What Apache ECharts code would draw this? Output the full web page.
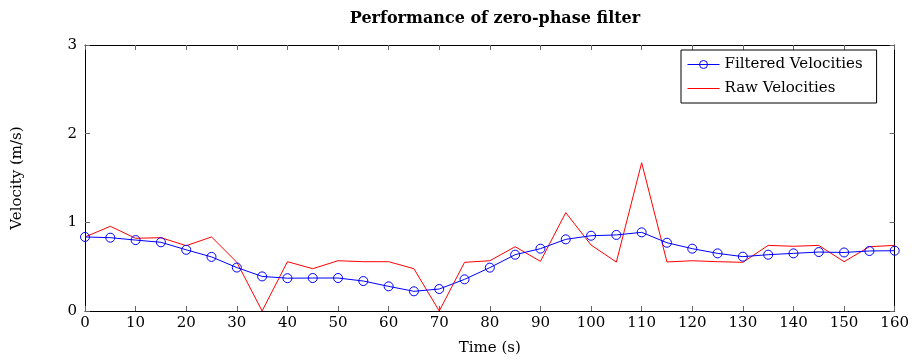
<!DOCTYPE html>
<html><head><meta charset="utf-8">
<script src="https://cdn.jsdelivr.net/npm/echarts@6/dist/echarts.min.js"></script>
<style>html,body{margin:0;padding:0;background:#fff}#c{width:912px;height:362px}</style>
</head><body><div id="c"></div>
<script>
const time = [0,5,10,15,20,25,30,35,40,45,50,55,60,65,70,75,80,85,90,95,100,105,110,115,120,125,130,135,140,145,150,155,160];
const filtered = [0.835,0.827,0.80,0.775,0.69,0.61,0.49,0.39,0.37,0.372,0.372,0.338,0.278,0.222,0.248,0.357,0.489,0.635,0.703,0.808,0.849,0.858,0.887,0.77,0.703,0.65,0.613,0.635,0.65,0.665,0.66,0.677,0.68];
const raw = [0.835,0.955,0.82,0.827,0.737,0.835,0.55,0.0,0.556,0.477,0.567,0.556,0.556,0.477,0.0,0.549,0.567,0.725,0.56,1.109,0.744,0.552,1.672,0.553,0.567,0.556,0.549,0.74,0.73,0.74,0.556,0.725,0.74];
const xTicks = [0,10,20,30,40,50,60,70,80,90,100,110,120,130,140,150,160];
const yTicks = [0,1,2,3];

const font = "'DejaVu Serif', 'Liberation Serif', serif";
const chart = echarts.init(document.getElementById('c'), null, {renderer:'canvas'});
const line = {show:true,onZero:false,lineStyle:{color:'#000',width:1}};
const tick = {show:true,inside:true,length:5,lineStyle:{color:'#666',width:1}};
chart.setOption({
  animation:false,
  backgroundColor:'#fff',
  title:{text:'Performance of zero-phase filter',left:490,textAlign:'center',top:6,
    textStyle:{fontFamily:font,fontWeight:'bold',fontSize:16,color:'#000'}},
  grid:{left:85,right:16,top:45,bottom:51},
  legend:{
    left:681,top:50,orient:'vertical',
    backgroundColor:'#fff',borderColor:'#000',borderWidth:1,
    padding:[7,14,7,6],itemGap:9,itemWidth:32,itemHeight:10,
    lineStyle:{width:1},itemStyle:{borderWidth:1},
    textStyle:{fontFamily:font,fontSize:15,color:'#000'},
    data:[{name:'Filtered Velocities'},{name:'Raw Velocities',icon:'path://M0,0h32v1h-32z'}]
  },
  xAxis:[
    {type:'value',min:0,max:160,interval:10,name:'Time (s)',nameLocation:'middle',nameGap:30,
      nameTextStyle:{fontFamily:font,fontSize:15,color:'#000'},
      axisLabel:{fontFamily:font,fontSize:15,color:'#000',margin:5},
      axisLine:line,axisTick:tick,splitLine:{show:false}},
    {type:'value',position:'top',min:0,max:160,interval:10,axisLabel:{show:false},
      axisLine:line,axisTick:tick,splitLine:{show:false}}
  ],
  yAxis:[
    {type:'value',min:0,max:3,interval:1,name:'Velocity (m/s)',nameLocation:'middle',nameGap:60,nameRotate:90,
      nameTextStyle:{fontFamily:font,fontSize:15,color:'#000'},
      axisLabel:{fontFamily:font,fontSize:15,color:'#000',margin:8},
      axisLine:line,axisTick:tick,splitLine:{show:false}},
    {type:'value',position:'right',min:0,max:3,interval:1,axisLabel:{show:false},
      axisLine:line,axisTick:tick,splitLine:{show:false}}
  ],
  series:[
    {name:'Filtered Velocities',type:'line',data:time.map((t,i)=>[t,filtered[i]]),
      symbol:'circle',symbolSize:9,showAllSymbol:true,
      lineStyle:{color:'#0000ff',width:1},
      itemStyle:{color:'rgba(0,0,0,0)',borderColor:'#0000ff',borderWidth:1},z:3},
    {name:'Raw Velocities',type:'line',data:time.map((t,i)=>[t,raw[i]]),
      symbol:'none',lineStyle:{color:'#ff0000',width:1},itemStyle:{color:'#ff0000'},z:2}
  ]
});
</script></body></html>
